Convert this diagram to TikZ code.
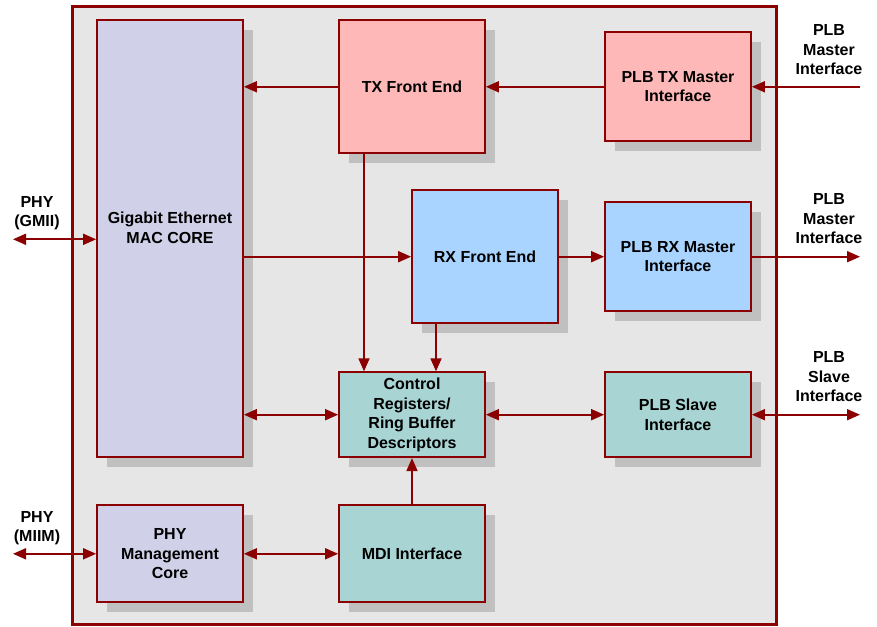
\documentclass[tikz,border=0pt]{standalone}
\usepackage{fontspec}
\setmainfont{Liberation Sans}
\usetikzlibrary{arrows.meta,shadows}
\definecolor{framered}{HTML}{8B0000}
\definecolor{corebg}{HTML}{E6E6E6}
\definecolor{macviolet}{HTML}{D0D0E8}
\definecolor{txpink}{HTML}{FFB8B8}
\definecolor{rxblue}{HTML}{A8D4FF}
\definecolor{regteal}{HTML}{A8D4D4}
\definecolor{shadowgray}{HTML}{C0C0C0}

\begin{document}
\begin{tikzpicture}[
  x=1pt,
  y=-1pt,
  font=\bfseries\fontsize{16}{19.5}\selectfont,
  block/.style={draw=framered,line width=1.8pt,minimum width=146pt,inner sep=0pt,align=center,
    drop shadow={shadow xshift=10pt,shadow yshift=-10pt,fill=shadowgray,opacity=1}},
  extlabel/.style={align=center,inner sep=0pt},
  conn/.style={draw=framered,line width=1.8pt,-{Triangle[length=13pt,width=11pt]}},
  biconn/.style={conn,{Triangle[length=13pt,width=11pt]}-{Triangle[length=13pt,width=11pt]}}
]
  \useasboundingbox (0,0) rectangle (877,626);

  % Core outline
  \draw[framered,fill=corebg,line width=3pt] (72,7) rectangle (776,624.5);

  % Blocks, in pixel coordinates of the original figure
  \node[block,fill=macviolet,minimum height=437pt] (mac) at (170,238.5) {};
  \node[extlabel] (maclabel) at (170,228) {Gigabit Ethernet\\MAC CORE};
  \node[block,fill=txpink,minimum height=133pt] (txfe) at (412,86.8) {TX Front End};
  \node[block,fill=txpink,minimum height=109pt] (plbtx) at (678,86.8) {PLB TX Master\\Interface};
  \node[block,fill=rxblue,minimum height=133pt] (rxfe) at (485,256.7) {RX Front End};
  \node[block,fill=rxblue,minimum height=109pt] (plbrx) at (678,256.7) {PLB RX Master\\Interface};
  \node[block,fill=regteal,minimum height=85pt] (ctrl) at (412,414.7) {Control\\Registers/\\Ring Buffer\\Descriptors};
  \node[block,fill=regteal,minimum height=85pt] (plbslv) at (678,414.7) {PLB Slave\\Interface};
  \node[block,fill=macviolet,minimum height=97pt] (phymgmt) at (170,553.8) {PHY\\Management\\Core};
  \node[block,fill=regteal,minimum height=97pt] (mdi) at (412,553.8) {MDI Interface};

  % Outside interfaces
  \node[extlabel] (gmiilabel) at (37,213) {PHY\\(GMII)};
  \node[extlabel] (miimlabel) at (37,528) {PHY\\(MIIM)};
  \node[extlabel] (txbuslabel) at (829,50) {PLB\\Master\\Interface};
  \node[extlabel] (rxbuslabel) at (829,219) {PLB\\Master\\Interface};
  \node[extlabel] (slvbuslabel) at (829,377) {PLB\\Slave\\Interface};
  \coordinate (gmii) at (13,239.3);
  \coordinate (miim) at (13,553.8);
  \coordinate (txbus) at (860,86.8);
  \coordinate (rxbus) at (860,256.7);
  \coordinate (slvbus) at (860,414.7);

  % Data paths
  \draw[conn] (txbus) -- (plbtx.east);
  \draw[conn] (plbtx.west) -- (txfe.east);
  \draw[conn] (txfe.west) -- (mac.east |- txfe.west);
  \draw[conn] (mac.east |- rxfe.west) -- (rxfe.west);
  \draw[conn] (rxfe.east) -- (plbrx.west);
  \draw[conn] (plbrx.east) -- (rxbus);
  \draw[biconn] (gmii) -- (mac.west |- gmii);

  % Register access
  \draw[conn] ([xshift=-48pt]txfe.south) -- ([xshift=-48pt]ctrl.north);
  \draw[conn] ([xshift=-49pt]rxfe.south) -- ([xshift=24pt]ctrl.north);
  \draw[biconn] (mac.east |- ctrl.west) -- (ctrl.west);
  \draw[biconn] (ctrl.east) -- (plbslv.west);
  \draw[biconn] (plbslv.east) -- (slvbus);
  \draw[conn] (mdi.north) -- (ctrl.south);
  \draw[biconn] (phymgmt.east) -- (mdi.west);
  \draw[biconn] (miim) -- (phymgmt.west);
\end{tikzpicture}
\end{document}
